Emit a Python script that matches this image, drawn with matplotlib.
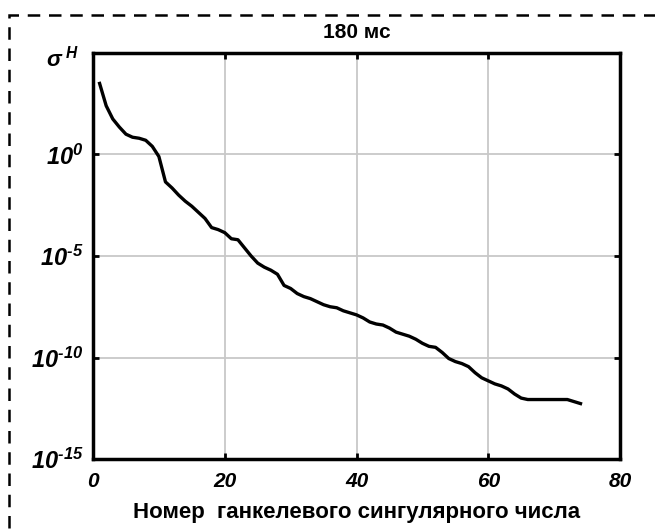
import numpy as np
import matplotlib
matplotlib.use('Agg')
import matplotlib.pyplot as plt
from matplotlib.patches import Rectangle

plt.rcParams['font.family'] = ['Liberation Sans', 'DejaVu Sans']
plt.rcParams['mathtext.fontset'] = 'custom'
plt.rcParams['mathtext.rm'] = 'Liberation Sans:italic:bold'
plt.rcParams['mathtext.it'] = 'Liberation Sans:italic:bold'
plt.rcParams['mathtext.bf'] = 'Liberation Sans:italic:bold'
plt.rcParams['mathtext.default'] = 'rm'

# number of the Hankel singular value
n = np.arange(1, 75)
# log10 of sigma^H
log_sigma = [3.5, 2.4, 1.75, 1.35, 1.0, 0.85, 0.8, 0.7, 0.4, -0.1,
             -1.35, -1.65, -2.0, -2.3, -2.55, -2.85, -3.15, -3.6, -3.7, -3.85,
             -4.15, -4.2, -4.6, -5.0, -5.35, -5.55, -5.7, -5.9, -6.45, -6.6,
             -6.85, -7.0, -7.1, -7.25, -7.4, -7.5, -7.55, -7.7, -7.8, -7.9,
             -8.05, -8.25, -8.35, -8.4, -8.55, -8.75, -8.85, -8.95, -9.1, -9.3,
             -9.45, -9.5, -9.75, -10.05, -10.2, -10.3, -10.45, -10.75, -11.0, -11.15,
             -11.3, -11.4, -11.55, -11.8, -12.0, -12.07, -12.07, -12.07, -12.07, -12.07,
             -12.07, -12.07, -12.17, -12.27]
sigma = 10.0 ** np.array(log_sigma)

xticks = [0, 20, 40, 60, 80]
yticks = [1e-15, 1e-10, 1e-5, 1e0]
ylabels = [r'$10^{\text{-}15}$', r'$10^{\text{-}10}$', r'$10^{\text{-}5}$', r'$10^{0}$']

fig = plt.figure(figsize=(6.55, 5.32), dpi=100)
ax = fig.add_axes([0.142, 0.1372, 0.8046, 0.7632])

ax.semilogy(n, sigma, c='k', lw=2.4, solid_joinstyle='round')
ax.set_xlim(0, 80)
ax.set_ylim(1e-15, 1e5)
ax.set_xticks(xticks)
ax.set_xticklabels([str(v) for v in xticks], fontsize=15, fontweight='bold', fontstyle='italic')
ax.set_yticks(yticks)
ax.set_yticklabels(ylabels, fontsize=17)
ax.yaxis.set_minor_locator(matplotlib.ticker.NullLocator())
ax.grid(True, color='#c8c8c8', lw=1.3)
ax.tick_params(axis='x', direction='in', length=4, width=2, top=True, pad=9)
ax.tick_params(axis='y', direction='in', length=4, width=2, right=True, pad=7)
for lab in ax.get_yticklabels():
    lab.set_va('center_baseline')
for s in ax.spines.values():
    s.set_linewidth(2.5)

ax.set_title('180 мс', fontsize=15, fontweight='bold', pad=11)
ax.set_xlabel('Номер  ганкелевого сингулярного числа', fontsize=16, fontweight='bold', labelpad=8)
fig.text(0.095, 0.89, r'$\sigma^{\ H}$', fontsize=16, ha='center', va='center')

# dashed frame round the figure
fig.patches.append(Rectangle((0.0135, -0.05), 1.1, 1.0218, transform=fig.transFigure,
                             fill=False, ec='k', lw=1.8, ls=(0, (5, 3.5)), clip_on=False))

plt.savefig('out.png', dpi=100)
